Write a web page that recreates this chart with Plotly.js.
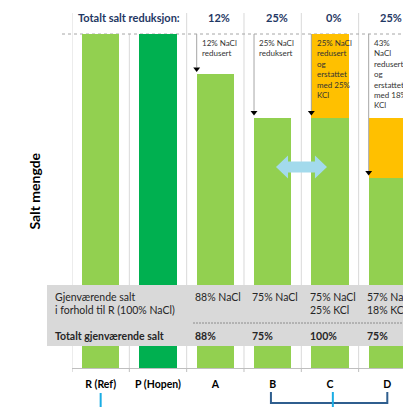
<!DOCTYPE html>
<html>
<head>
<meta charset="utf-8">
<script src="https://cdn.plot.ly/plotly-3.0.1.min.js"></script>
<style>
  html, body { margin: 0; padding: 0; background: #fff; overflow: hidden; }
  #chart { width: 403px; height: 407px; }
</style>
</head>
<body>
<div id="chart"></div>
<script>
// ---- data ----
const categories = ['R (Ref)', 'P (Hopen)', 'A', 'B', 'C', 'D'];
const naclValues = [100, 100, 88, 75, 75, 57];
const kclValues = [0, 0, 0, 0, 25, 18];
const naclColors = ['#92D050', '#00B050', '#92D050', '#92D050', '#92D050', '#92D050'];
const noteTexts = [null, null,
  '12% NaCl<br>redusert',
  '25% NaCl<br>reduksert',
  '25% NaCl<br>redusert<br>og<br>erstattet<br>med 25%<br>KCl',
  '43%<br>NaCl<br>redusert<br>og<br>erstattet<br>med 18%<br>KCl'];
const remainingNacl = [null, null, '88% NaCl', '75% NaCl', '75% NaCl', '57% NaCl'];
const remainingKcl = [null, null, null, null, '25% KCl', '18% KCl'];
const rowLabelRemaining = ['Gjenværende salt', 'i forhold til R (100% NaCl)'];
const rowLabelTotal = 'Totalt gjenværende salt';
const headerLabel = 'Totalt salt reduksjon:';
const yTitle = 'Salt mengde';

// ---- layout constants ----
const FONT = 'Lato, "Open Sans", sans-serif';
const BARW = 0.65;
const xIdx = categories.map((c, i) => i);
const xRange = [-0.5, 5.2737];
const plotH = 334; // px
const pxY = p => (368 - p) / plotH; // page pixel row -> paper y
const plotW = 331;
const pxX = p => (p - 72) / plotW; // page pixel col -> paper x

const traces = [
  { type: 'bar', x: xIdx, y: naclValues, width: BARW,
    marker: { color: naclColors, line: { width: 0 } }, hoverinfo: 'skip' },
  { type: 'bar', x: xIdx, y: kclValues, width: BARW,
    marker: { color: '#FFC000', line: { width: 0 } }, hoverinfo: 'skip' }
];

// arrow lines (gray) and heads (black) for the reduced categories
const arrowX = [], arrowY = [], headX = [], headY = [];
xIdx.forEach(i => {
  if (noteTexts[i]) {
    const ax = i - BARW / 2;
    arrowX.push(ax, ax, null);
    arrowY.push(100, naclValues[i] + 2, null);
    headX.push(ax);
    headY.push(naclValues[i] + 1.5);
  }
});
traces.push({ type: 'scatter', mode: 'lines', x: arrowX, y: arrowY,
  line: { color: '#A6A6A6', width: 1 }, hoverinfo: 'skip', cliponaxis: false });
traces.push({ type: 'scatter', mode: 'markers', x: headX, y: headY,
  marker: { symbol: 'triangle-down', size: 6, color: '#000' }, hoverinfo: 'skip', cliponaxis: false });

const shapes = [];
// vertical separators at category boundaries
for (let k = 0; k <= 5; k++) {
  const xb = k - 0.5;
  shapes.push({ type: 'line', xref: 'x', yref: 'paper', x0: xb, x1: xb,
    y0: 0, y1: (k === 1 ? 1 : pxY(13)), line: { color: '#D9D9D9', width: 1 }, layer: 'below' });
  // tick marks below axis
  shapes.push({ type: 'line', xref: 'x', yref: 'paper', x0: xb, x1: xb,
    y0: 0, y1: pxY(372), line: { color: '#BFBFBF', width: 1 } });
}
// dotted 100% line
shapes.push({ type: 'line', xref: 'paper', yref: 'paper', x0: pxX(62), x1: 1, y0: 1, y1: 1,
  line: { color: '#A6A6A6', width: 1, dash: 'dot' }, layer: 'below' });
// gray info box
shapes.push({ type: 'rect', xref: 'paper', yref: 'paper', x0: pxX(47), x1: 1.01,
  y0: pxY(346), y1: pxY(285), fillcolor: '#D9D9D9', line: { width: 0 }, layer: 'above' });
shapes.push({ type: 'line', xref: 'paper', yref: 'paper', x0: pxX(193), x1: 1.01,
  y0: pxY(323), y1: pxY(323), line: { color: '#8C8C8C', width: 1, dash: '2px,1px' }, layer: 'above' });
// double arrow between B and C
(function () {
  const c = 60.2, h = 3.45, s = 1.65, x0 = 3.058, x1 = 3.948, hl = 0.21;
  const p = `M${x0},${c} L${x0 + hl},${c + h} L${x0 + hl},${c + s} L${x1 - hl},${c + s} L${x1 - hl},${c + h} L${x1},${c} L${x1 - hl},${c - h} L${x1 - hl},${c - s} L${x0 + hl},${c - s} L${x0 + hl},${c - h} Z`;
  shapes.push({ type: 'path', xref: 'x', yref: 'y', path: p, fillcolor: '#A3DAEC', line: { width: 0 }, layer: 'above' });
})();
// bottom marks
shapes.push({ type: 'line', xref: 'x', yref: 'paper', x0: 0, x1: 0, y0: pxY(393), y1: pxY(410),
  line: { color: '#1AADE4', width: 2 } });
shapes.push({ type: 'path', xref: 'x', yref: 'paper',
  path: `M2.97,${pxY(392)} L2.97,${pxY(403)} L5.0,${pxY(403)} L5.0,${pxY(392)}`,
  line: { color: '#2F5E8E', width: 2 } });
shapes.push({ type: 'line', xref: 'x', yref: 'paper', x0: 4.05, x1: 4.05, y0: pxY(392), y1: pxY(410),
  line: { color: '#1AADE4', width: 2 } });

const annotations = [];
const navy = '#1F3864';
const boxFont = { family: FONT, size: 10.5, color: '#262626' };
annotations.push({ xref: 'paper', yref: 'paper', x: pxX(129), y: pxY(17), text: '<b>' + headerLabel + '</b>',
  showarrow: false, font: { family: FONT, size: 11, color: navy }, xanchor: 'center', yanchor: 'middle' });
annotations.push({ xref: 'paper', yref: 'paper', x: pxX(23), y: pxY(191), text: '<b>' + yTitle + '</b>',
  textangle: -90, showarrow: false, font: { family: FONT, size: 14, color: '#000' } });
rowLabelRemaining.forEach((t, j) => {
  annotations.push({ xref: 'paper', yref: 'paper', x: pxX(53), y: pxY(297 + j * 12.7), text: t,
    showarrow: false, font: boxFont, xanchor: 'left', yanchor: 'middle', align: 'left' });
});
annotations.push({ xref: 'paper', yref: 'paper', x: pxX(53), y: pxY(336), text: '<b>' + rowLabelTotal + '</b>',
  showarrow: false, font: boxFont, xanchor: 'left', yanchor: 'middle' });

xIdx.forEach(i => {
  if (!noteTexts[i]) return;
  const total = naclValues[i] + kclValues[i];
  annotations.push({ xref: 'x', yref: 'paper', x: i + 0.07, y: pxY(17), text: '<b>' + (100 - total) + '%</b>',
    showarrow: false, font: { family: FONT, size: 11, color: navy }, xanchor: 'center', yanchor: 'middle' });
  annotations.push({ xref: 'x', yref: 'paper', x: i - BARW / 2 + 0.06, y: pxY(36), text: noteTexts[i],
    showarrow: false, font: { family: FONT, size: 8, color: '#333' }, xanchor: 'left', yanchor: 'top', align: 'left' });
  [remainingNacl[i], remainingKcl[i]].forEach((t, j) => {
    if (!t) return;
    annotations.push({ xref: 'x', yref: 'paper', x: i - 0.39, y: pxY(297 + j * 12.7), text: t,
      showarrow: false, font: boxFont, xanchor: 'left', yanchor: 'middle', align: 'left' });
  });
  annotations.push({ xref: 'x', yref: 'paper', x: i - 0.39, y: pxY(336), text: '<b>' + total + '%</b>',
    showarrow: false, font: boxFont, xanchor: 'left', yanchor: 'middle' });
});

const layout = {
  width: 403, height: 407,
  margin: { l: 72, r: 0, t: 34, b: 39, pad: 0 },
  paper_bgcolor: '#fff', plot_bgcolor: '#fff',
  barmode: 'stack', showlegend: false,
  font: { family: FONT },
  xaxis: {
    type: 'linear', range: xRange, showgrid: false, zeroline: false,
    showline: true, linecolor: '#BFBFBF', linewidth: 1,
    tickmode: 'array', tickvals: xIdx, ticktext: categories.map(c => '<b>' + c + '</b>'),
    ticks: '', tickfont: { family: FONT, size: 10.5, color: '#000' }, ticklabelstandoff: 6
  },
  yaxis: { range: [0, 100], visible: false, fixedrange: true },
  shapes: shapes,
  annotations: annotations
};

Plotly.newPlot('chart', traces, layout, { displayModeBar: false, staticPlot: true });
</script>
</body>
</html>
